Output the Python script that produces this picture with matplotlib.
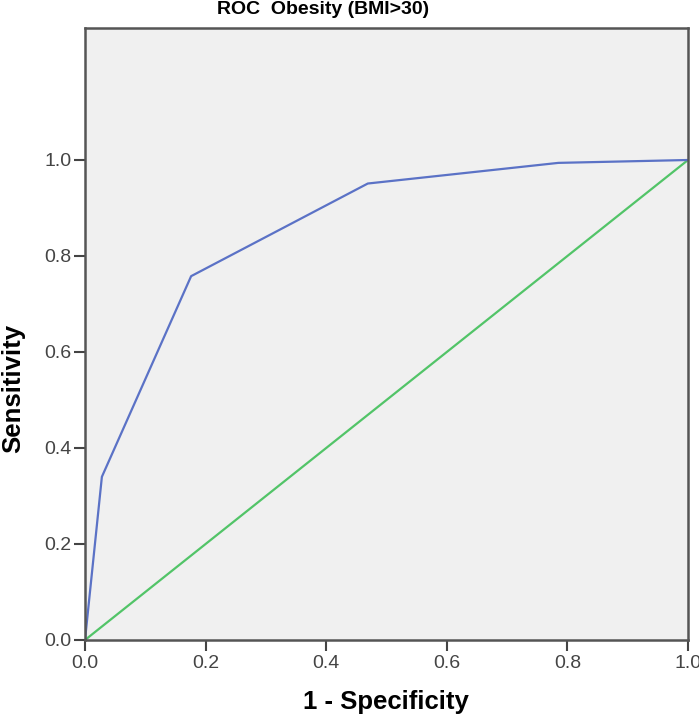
import matplotlib
matplotlib.use("Agg")
import matplotlib.pyplot as plt

# ROC curve data
fpr = [0.0, 0.028, 0.176, 0.469, 0.785, 1.0]
tpr = [0.0, 0.340, 0.758, 0.951, 0.994, 1.0]
ref_x = [0.0, 1.0]
ref_y = [0.0, 1.0]
ticks = [0.0, 0.2, 0.4, 0.6, 0.8, 1.0]
tick_labels = ["0.0", "0.2", "0.4", "0.6", "0.8", "1.0"]

plt.rcParams['font.family'] = ['Liberation Sans', 'DejaVu Sans']

W, H = 699, 717
fig = plt.figure(figsize=(W/100, H/100), dpi=100)
ax = fig.add_axes([85/W, 1 - 640/H, (688-85)/W, (640-28)/H])
ax.set_facecolor('#f0f0f0')

ax.plot(ref_x, ref_y, color='#52c468', lw=1.6, solid_capstyle='butt')
ax.plot(fpr, tpr, color='#5b72c6', lw=1.6)

ax.set_xlim(0, 1.0)
ax.set_ylim(0, 1.275)
ax.set_xticks(ticks)
ax.set_xticklabels(tick_labels)
ax.set_yticks(ticks)
ax.set_yticklabels(tick_labels)
ax.tick_params(direction='out', length=8, width=1.5, color='#444444',
               labelsize=14, labelcolor='#444444')
ax.tick_params(axis='x', pad=3)
ax.tick_params(axis='y', pad=1.5)
for s in ax.spines.values():
    s.set_color('#555555')
    s.set_linewidth(1.8)

ax.set_xlabel('1 - Specificity', fontsize=18.5, fontweight='bold', va='center', ha='center')
ax.xaxis.set_label_coords(385.5/W, 1 - 702/H, transform=fig.transFigure)
ax.set_ylabel('Sensitivity', fontsize=18.5, fontweight='bold', va='center', ha='center')
ax.yaxis.set_label_coords(13/W, 1 - 388/H, transform=fig.transFigure)
fig.text(323/W, 1 - 10/H, 'ROC  Obesity (BMI>30)', fontsize=14, fontweight='bold',
         ha='center', va='center')

fig.savefig('out.png', dpi=100)
